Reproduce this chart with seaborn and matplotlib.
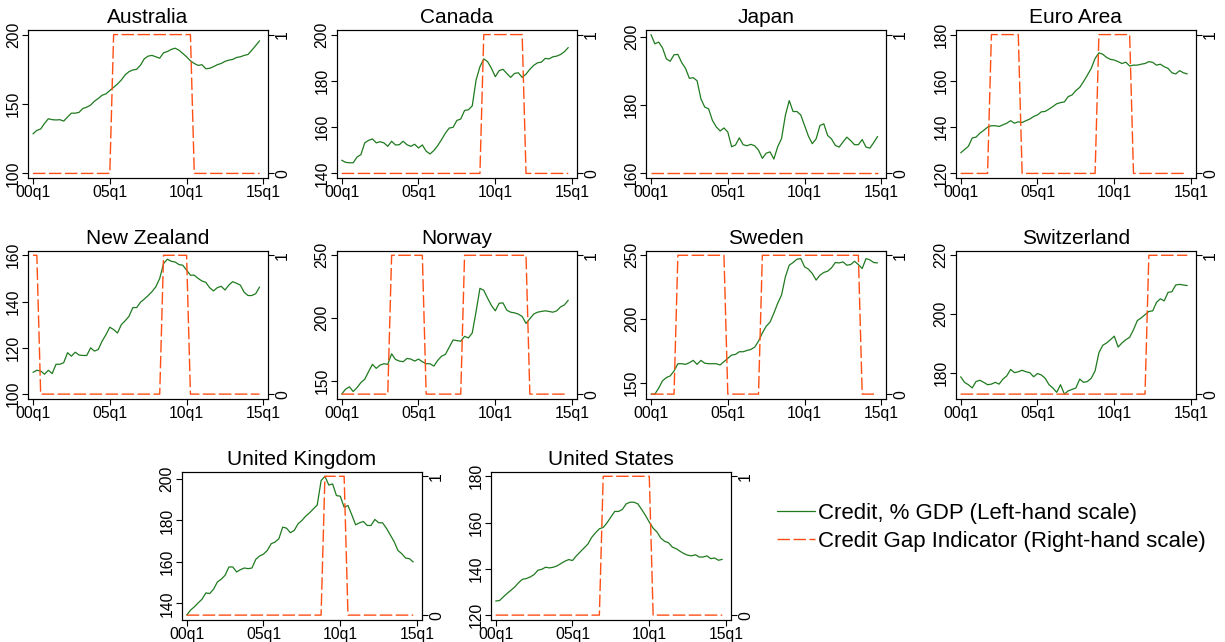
import numpy as np
import pandas as pd
import seaborn as sns
import matplotlib.pyplot as plt
from matplotlib.lines import Line2D

# quarterly observations, 2000q1 ... 2014q4
quarters = np.arange(60)
xtick_pos = [0, 20, 40, 60]
xtick_labels = ['00q1', '05q1', '10q1', '15q1']

# Credit, % of GDP
credit_australia = [128.5, 131, 132, 136, 139.4, 138.7, 138.5, 138.7, 137.7, 140.6,
                    143.4, 143.4, 144, 146.8, 147.7, 149.2, 152, 154, 156.3, 157.3,
                    159.7, 162, 164.4, 167.3, 171, 173.3, 174.5, 175, 178, 182.6,
                    184.5, 185, 184, 183, 186.9, 187.8, 189.3, 190.2, 188.8, 186.4,
                    184, 181.1, 179.2, 177.8, 178.3, 175.4, 175.7, 176.9, 178.3, 179.2,
                    180.7, 181.6, 182.1, 183.5, 184, 185, 185.7, 188.8, 192.1, 195.5]
credit_canada = [145.7, 144.8, 144.6, 144.6, 147.1, 148.1, 153.2, 154.3, 154.9, 153.2,
                 153.7, 153.2, 151.7, 153.9, 152.3, 152.4, 153.9, 152.4, 151.7, 152.6,
                 151, 152.3, 149.6, 148.4, 149.9, 152, 154.6, 157.4, 159.6, 159.9,
                 162.9, 163.5, 167.2, 167.5, 169.2, 180.4, 186.1, 189.5, 188.3, 185.4,
                 181.8, 184.4, 185, 183.2, 181.5, 183.2, 183.5, 181.5, 182.9, 185,
                 186.7, 187.8, 188.1, 189.7, 189.5, 190.4, 190.7, 191.4, 192.6, 194.4]
credit_japan = [200.6, 197.9, 198.4, 196.7, 193.5, 192.8, 194.7, 194.8, 192.4, 190.7,
                187.8, 188, 187.1, 181.8, 179.4, 178.9, 175.5, 173.6, 172.4, 173.3,
                172.1, 167.8, 168.3, 170.4, 168.4, 168.1, 168.5, 168.1, 166.8, 164.4,
                165.9, 166.3, 164.2, 167.8, 170.2, 177, 181.3, 178.1, 178.1, 177.1,
                174, 170.9, 168.7, 170.1, 174, 174.5, 171.1, 170.1, 168.2, 167.7,
                169.2, 170.6, 169.6, 168.4, 168.4, 169.9, 167.7, 167.4, 169, 170.8]
credit_euro = [128.9, 130.3, 131.7, 135.3, 135.7, 137.4, 138.6, 140, 140.6, 140.6,
               140.3, 141, 141.7, 142.8, 141.7, 142.3, 142, 142.8, 143.5, 144.6,
               145.3, 146.6, 146.8, 147.8, 148.9, 150.1, 150.6, 150.9, 153.2, 153.9,
               155.8, 157.2, 159.7, 162.5, 165.4, 169.7, 172.1, 171.5, 170.1, 169.3,
               169, 168.3, 167.5, 168.1, 166.4, 166.8, 166.8, 167.2, 167.5, 168.3,
               168, 166.8, 167.2, 166.1, 165.4, 163.5, 163, 164.4, 163.5, 163]
credit_nz = [109.4, 110.3, 110, 108.6, 110.3, 108.9, 112.9, 112.9, 113.6, 117.9,
             116.4, 118.1, 116.9, 116.7, 116.7, 120, 118.6, 119.3, 122.9, 125.7,
             128.9, 127.9, 126.4, 130, 131.7, 133.6, 137.4, 137.4, 139.7, 141.1,
             142.6, 144.3, 146.4, 150, 156.4, 158.3, 157.4, 157.1, 156, 155.7,
             153.6, 151.4, 151.4, 150, 148.9, 148.3, 146, 144.6, 146, 146.6,
             145, 147.1, 148.6, 147.9, 147.1, 144, 142.6, 142.6, 143.4, 146.3]
credit_norway = [139.5, 143.4, 145.3, 141.6, 144.7, 148.7, 151.3, 157.4, 163.2, 160,
                 162.6, 163.7, 163.2, 171.6, 167.1, 165.8, 165.3, 167.9, 167.4, 165.8,
                 167.4, 165.3, 163.7, 163.7, 161.8, 166.3, 169.7, 171.1, 176.8, 182.6,
                 182.1, 181.6, 185.5, 184.2, 188.2, 205.3, 223.7, 222.1, 215.8, 210,
                 205.8, 211.8, 212.1, 206.3, 204.7, 204.2, 203.2, 201.3, 195.8, 199.5,
                 203.2, 204.7, 205.3, 205.8, 205.3, 204.7, 205.8, 208.9, 210.5, 214.2]
credit_sweden = [140.9, 140.9, 145.6, 151.3, 153.9, 155.2, 159.1, 164.8, 164.8, 164.3,
                 165.6, 167.4, 164.3, 167.4, 165.2, 164.8, 164.8, 164.8, 163.8, 166.4,
                 169, 171.6, 172.1, 174.2, 174.2, 175.2, 176, 177.8, 182.5, 189,
                 194.2, 197.5, 204.5, 212.3, 218.8, 233.1, 242.2, 244.3, 246.9, 247.4,
                 240.9, 239.1, 235.7, 230.5, 234.4, 236.5, 237.5, 240.1, 244.3, 244,
                 244.8, 242.2, 242.7, 245.3, 242.7, 239.6, 247.4, 246.4, 244.3, 244]
credit_swiss = [178.7, 176.8, 176, 174.9, 177.1, 177.5, 176.8, 176, 176.2, 176.8,
                176.2, 177.9, 179, 181.2, 180.1, 180.4, 180.9, 180.4, 180.1, 178.7,
                179.8, 179.3, 178.2, 176, 174.9, 173.4, 176, 172.8, 173.9, 174.4,
                174.9, 177.9, 176.8, 177.1, 178.2, 180.7, 186.9, 189.4, 190.2, 191.3,
                192.5, 188.8, 190.2, 191.3, 192.1, 194.7, 197.8, 198.7, 199.8, 200.9,
                201.1, 204, 205.2, 204.5, 207.4, 207.6, 209.9, 210.1, 209.9, 209.7]
credit_uk = [134.4, 136.8, 138.4, 140.3, 142.1, 145.1, 144.8, 146.9, 150.4, 151.7,
             153.6, 157.6, 157.6, 155.2, 156.3, 157.1, 156.8, 157.1, 161.3, 162.9,
             163.8, 165.6, 168.8, 169.6, 171.2, 176.8, 176.3, 174.1, 175.2, 178.4,
             180, 182.1, 183.7, 185.6, 187.5, 199.2, 201.3, 197.1, 197.6, 192,
             191.7, 186.4, 187.2, 182.7, 177.9, 178.9, 179.5, 177.6, 177.6, 180.5,
             178.9, 178.9, 176.3, 173.1, 169.9, 165.6, 164, 161.9, 161.6, 160]
credit_us = [126.1, 126.3, 127.9, 129.4, 130.8, 132.2, 134.1, 135.5, 135.8, 136.5,
             137.5, 139.4, 139.8, 140.7, 140.4, 140.7, 141.3, 142.3, 143.3, 144,
             143.6, 145.6, 147.3, 149, 150.7, 153.6, 155.6, 157.3, 157.9, 159.9,
             162.4, 164.8, 164.8, 165.7, 168.1, 168.8, 168.8, 168.1, 165.7, 163.1,
             160.2, 157.6, 155.9, 153.3, 151.9, 151.3, 149.4, 148.7, 147.6, 146.6,
             145.9, 145.6, 146.1, 145.1, 145.1, 145.6, 144.4, 144.7, 143.7, 144.1]

# Credit gap indicator, one group of four quarters per year
gap_australia = '0000 0000 0000 0000 0000 0111 1111 1111 1111 1111 1100 0000 0000 0000 0000'
gap_canada = '0000 0000 0000 0000 0000 0000 0000 0000 0000 0111 1111 1111 0000 0000 0000'
gap_japan = '0000 0000 0000 0000 0000 0000 0000 0000 0000 0000 0000 0000 0000 0000 0000'
gap_euro = '0000 0000 1111 1111 0000 0000 0000 0000 0000 1111 1111 1000 0000 0000 0000'
gap_nz = '1100 0000 0000 0000 0000 0000 0000 0000 0011 1111 1000 0000 0000 0000 0000'
gap_norway = '0000 0000 0000 0111 1111 1100 0000 0000 1111 1111 1111 1111 1000 0000 0000'
gap_sweden = '0000 0001 1111 1111 1111 0000 0000 0111 1111 1111 1111 1111 1111 1110 0000'
gap_swiss = '0000 0000 0000 0000 0000 0000 0000 0000 0000 0000 0000 0000 0111 1111 1111'
gap_uk = '0000 0000 0000 0000 0000 0000 0000 0000 0000 1111 1100 0000 0000 0000 0000'
gap_us = '0000 0000 0000 0000 0000 0000 0000 1111 1111 1111 1000 0000 0000 0000 0000'

yticks_australia = [100, 150, 200]
yticks_canada = [140, 160, 180, 200]
yticks_japan = [160, 180, 200]
yticks_euro = [120, 140, 160, 180]
yticks_nz = [100, 120, 140, 160]
yticks_norway = [150, 200, 250]
yticks_sweden = [150, 200, 250]
yticks_swiss = [180, 200, 220]
yticks_uk = [140, 160, 180, 200]
yticks_us = [120, 140, 160, 180]

GREEN = '#1f7a1f'
ORANGE = '#ff4f14'
DASH = (0, (9, 2.5))
PAD = 0.033

W, H = 1225, 642


def painel(fig, box, titulo, credit, gap, yticks):
    x0, top, w, h = box
    ax = fig.add_axes([x0 / W, 1 - (top + h) / H, w / W, h / H])
    df = pd.DataFrame({'q': quarters, 'credit': credit,
                       'gap': [int(c) for c in gap.replace(' ', '')]})
    sns.lineplot(data=df, x='q', y='credit', ax=ax, color=GREEN, lw=0.9)
    ax2 = ax.twinx()
    sns.lineplot(data=df, x='q', y='gap', ax=ax2, color=ORANGE, lw=1.0, linestyle=DASH)

    lo = min(min(credit), min(yticks))
    hi = max(max(credit), max(yticks))
    ax.set_ylim(lo - PAD * (hi - lo), hi + PAD * (hi - lo))
    ax2.set_ylim(-PAD, 1 + PAD)
    ax.set_xlim(-1.3, 61.2)

    ax.set_xticks(xtick_pos, xtick_labels)
    ax.set_yticks(yticks)
    ax2.set_yticks([0, 1])
    for a in (ax, ax2):
        a.set_xlabel('')
        a.set_ylabel('')
        a.tick_params(direction='out', length=4, width=0.8, labelsize=11.3, pad=1.2, colors='black')
        for s in a.spines.values():
            s.set_color('black')
            s.set_linewidth(0.8)
        for lab in a.get_yticklabels():
            lab.set_rotation(90)
            lab.set_va('center')
    ax.set_title(titulo, fontsize=15, pad=5, color='black')


def main():
    sns.set_theme(style='ticks')
    plt.rcParams['font.family'] = ['Liberation Sans', 'DejaVu Sans']
    plt.rcParams['text.color'] = 'black'

    fig = plt.figure(figsize=(12.25, 6.42), dpi=100)

    cols = [28, 336.7, 646, 955.7]
    tops = [30, 250.7, 471.7]
    w, h = 240, 148

    paineis = [
        ((cols[0], tops[0], w, h), 'Australia', credit_australia, gap_australia, yticks_australia),
        ((cols[1], tops[0], w, h), 'Canada', credit_canada, gap_canada, yticks_canada),
        ((cols[2], tops[0], w, h), 'Japan', credit_japan, gap_japan, yticks_japan),
        ((cols[3], tops[0], w, h), 'Euro Area', credit_euro, gap_euro, yticks_euro),
        ((cols[0], tops[1], w, h), 'New Zealand', credit_nz, gap_nz, yticks_nz),
        ((cols[1], tops[1], w, h), 'Norway', credit_norway, gap_norway, yticks_norway),
        ((cols[2], tops[1], w, h), 'Sweden', credit_sweden, gap_sweden, yticks_sweden),
        ((cols[3], tops[1], w, h), 'Switzerland', credit_swiss, gap_swiss, yticks_swiss),
        ((181.7, tops[2], w, h), 'United Kingdom', credit_uk, gap_uk, yticks_uk),
        ((490.7, tops[2], w, h), 'United States', credit_us, gap_us, yticks_us),
    ]
    for p in paineis:
        painel(fig, *p)

    handles = [Line2D([], [], color=GREEN, lw=0.9),
               Line2D([], [], color=ORANGE, lw=1.0, linestyle=DASH)]
    fig.legend(handles, ['Credit, % GDP (Left-hand scale)',
                         'Credit Gap Indicator (Right-hand scale)'],
               loc='upper left', bbox_to_anchor=(777 / W, 1 - 503 / H),
               frameon=False, fontsize=16, handlelength=1.7, handletextpad=0.14,
               labelspacing=0.3, borderpad=0, borderaxespad=0, labelcolor='black')

    fig.savefig('out.png', dpi=100)
    plt.close()


if __name__ == '__main__':
    main()
